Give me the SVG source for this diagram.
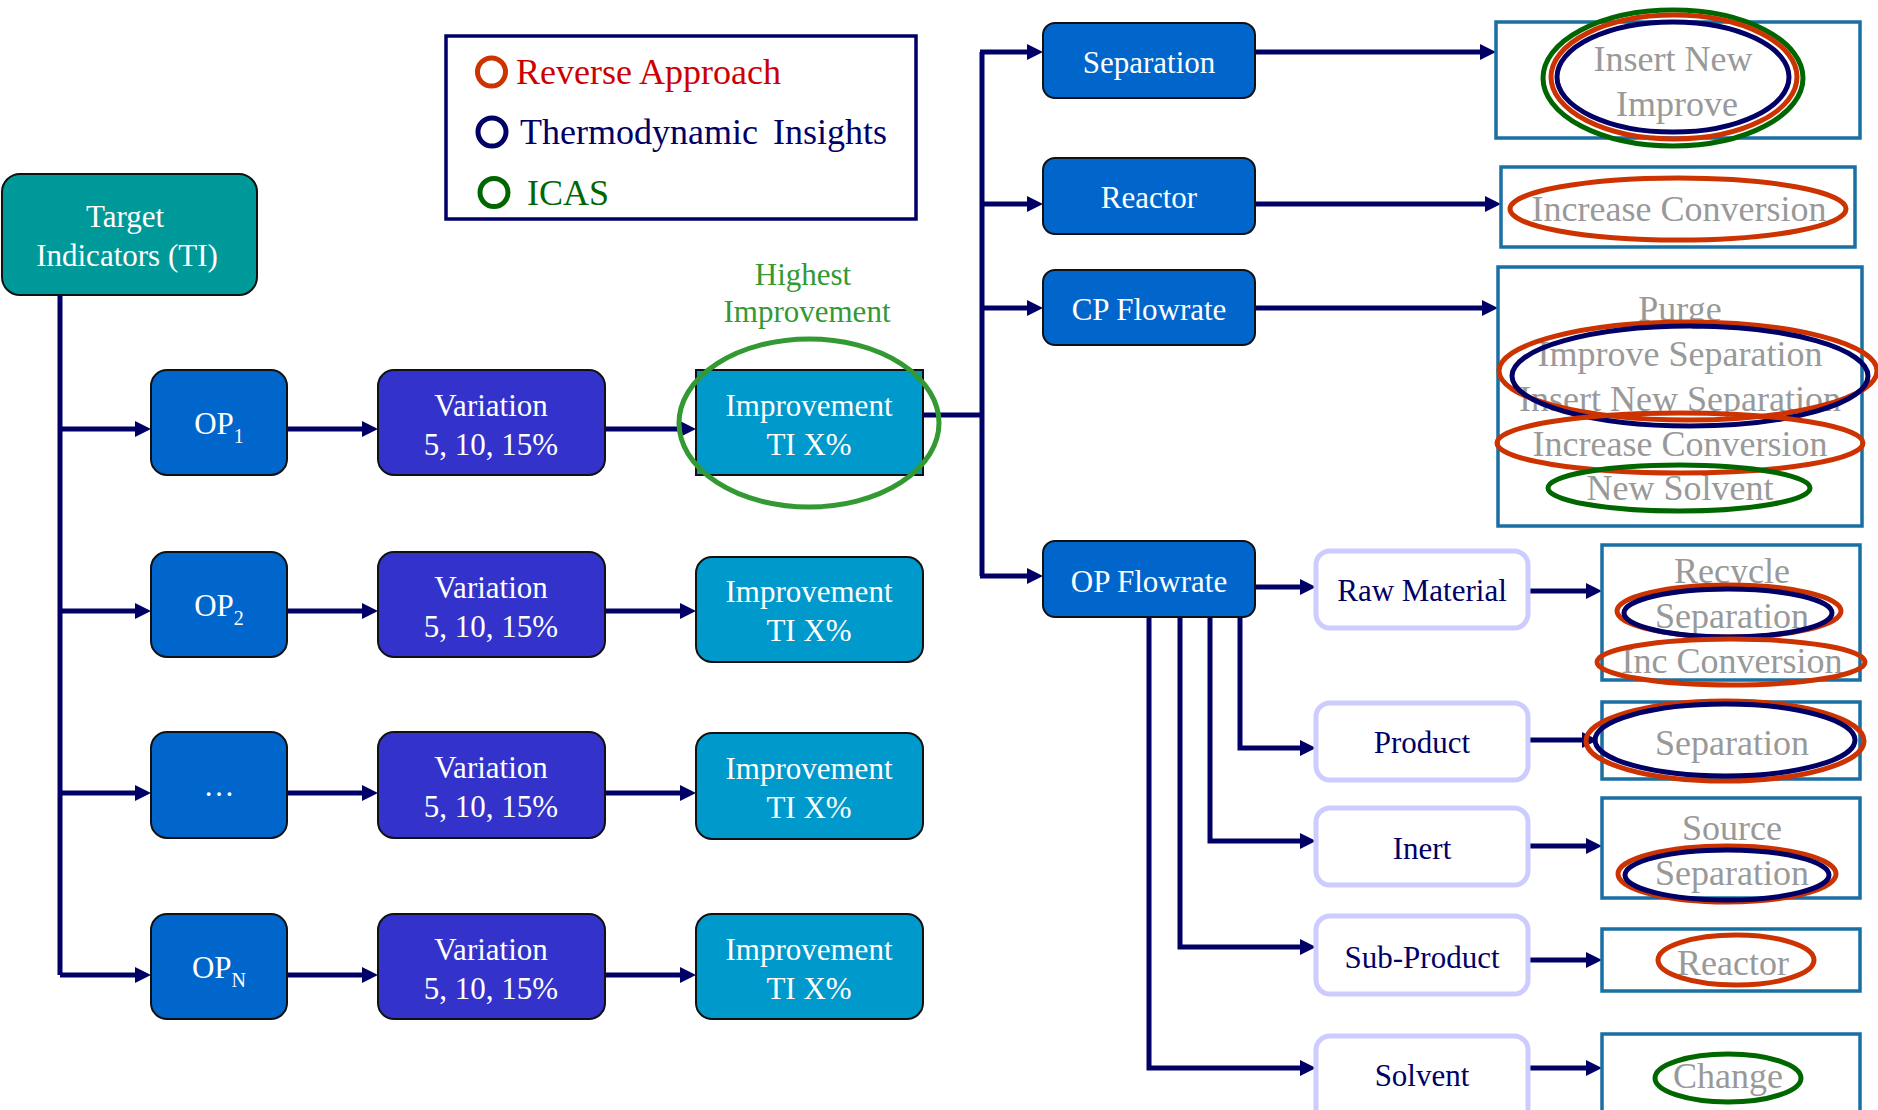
<svg xmlns="http://www.w3.org/2000/svg" width="1878" height="1110" viewBox="0 0 1878 1110">
<defs>
<marker id="ah" viewBox="0 0 16 16" refX="4" refY="8" markerWidth="16" markerHeight="16" markerUnits="userSpaceOnUse" orient="auto">
<path d="M0,0 L16,8 L0,16 z" fill="#000066"/>
</marker>
</defs>
<style>
text{font-family:"Liberation Serif","Times New Roman",serif;text-anchor:middle}
.w{fill:#fff;font-size:31px}
.n{fill:#000066;font-size:31px}
.g{fill:#999999;font-size:36px}
.box{stroke:#111;stroke-width:2}
.op{fill:#0066cc}
.va{fill:#3333cc}
.im{fill:#0099cc}
.lav{fill:#fff;stroke:#ccccff;stroke-width:5}
.res{fill:#fff;stroke:#1a6fa3;stroke-width:3.5}
.e{fill:none;stroke-width:5}
.er{stroke:#cc3300}
.en{stroke:#000066}
.eg{stroke:#006600}
.c{fill:none;stroke:#000066;stroke-width:5}
.ca{fill:none;stroke:#000066;stroke-width:5;marker-end:url(#ah)}
</style>
<rect width="1878" height="1110" fill="#fff"/>

<g id="legend">
<rect x="446" y="36" width="470" height="183" fill="#fff" stroke="#000066" stroke-width="3.5"/>
<ellipse cx="491.5" cy="72" rx="14" ry="14" fill="none" stroke="#cc3300" stroke-width="5"/>
<ellipse cx="492" cy="132" rx="14" ry="14" fill="none" stroke="#000066" stroke-width="5"/>
<ellipse cx="494" cy="192.5" rx="14" ry="14" fill="none" stroke="#006600" stroke-width="5"/>
<text x="516" y="84" style="font-size:36px;fill:#cc0000;text-anchor:start">Reverse Approach</text>
<text x="520" y="144" style="font-size:36px;fill:#000066;text-anchor:start;word-spacing:6px">Thermodynamic Insights</text>
<text x="527" y="205" style="font-size:36px;fill:#006600;text-anchor:start">ICAS</text>
</g>

<g id="connectors">
<path class="c" d="M60,295 V975"/>
<path class="ca" d="M60,429 H139"/>
<path class="ca" d="M60,611 H139"/>
<path class="ca" d="M60,793 H139"/>
<path class="ca" d="M60,975 H139"/>
<path class="ca" d="M287,429 H366"/>
<path class="ca" d="M287,611 H366"/>
<path class="ca" d="M287,793 H366"/>
<path class="ca" d="M287,975 H366"/>
<path class="ca" d="M605,429 H684"/>
<path class="ca" d="M605,611 H684"/>
<path class="ca" d="M605,793 H684"/>
<path class="ca" d="M605,975 H684"/>
<path class="c" d="M923,415 H982"/>
<path class="c" d="M982,52 V576"/>
<path class="ca" d="M980,52 H1031"/>
<path class="ca" d="M982,204 H1031"/>
<path class="ca" d="M982,308 H1031"/>
<path class="ca" d="M980,576 H1031"/>
<path class="ca" d="M1255,52 H1484"/>
<path class="ca" d="M1255,204 H1489"/>
<path class="ca" d="M1255,308 H1486"/>
<path class="ca" d="M1255,587 H1304"/>
<path class="ca" d="M1240,617 V748 H1304"/>
<path class="ca" d="M1210,617 V841 H1304"/>
<path class="ca" d="M1180,617 V947 H1304"/>
<path class="ca" d="M1149,617 V1068 H1304"/>
<path class="ca" d="M1528,591 H1590"/>
<path class="ca" d="M1528,740 H1586"/>
<path class="ca" d="M1528,846 H1590"/>
<path class="ca" d="M1528,960 H1590"/>
<path class="ca" d="M1528,1068 H1590"/>
</g>

<g id="target">
<rect class="box" x="2" y="174" width="255" height="121" rx="18" fill="#009999"/>
<text class="w" x="125" y="227">Target</text>
<text class="w" x="127" y="266">Indicators (TI)</text>
</g>

<g id="op1"><rect class="box op" x="151" y="370" width="136" height="105" rx="16"/>
<text class="w" x="219" y="434">OP<tspan style="font-size:20px" dy="9">1</tspan></text></g>
<g id="op2"><rect class="box op" x="151" y="552" width="136" height="105" rx="16"/>
<text class="w" x="219" y="616">OP<tspan style="font-size:20px" dy="9">2</tspan></text></g>
<g id="op3"><rect class="box op" x="151" y="732" width="136" height="106" rx="16"/>
<text class="w" x="219" y="796">…</text></g>
<g id="opn"><rect class="box op" x="151" y="914" width="136" height="105" rx="16"/>
<text class="w" x="219" y="978">OP<tspan style="font-size:20px" dy="9">N</tspan></text></g>

<g id="var1"><rect class="box va" x="378" y="370" width="227" height="105" rx="16"/>
<text class="w" x="491" y="416">Variation</text><text class="w" x="491" y="455">5, 10, 15%</text></g>
<g id="var2"><rect class="box va" x="378" y="552" width="227" height="105" rx="16"/>
<text class="w" x="491" y="598">Variation</text><text class="w" x="491" y="637">5, 10, 15%</text></g>
<g id="var3"><rect class="box va" x="378" y="732" width="227" height="106" rx="16"/>
<text class="w" x="491" y="778">Variation</text><text class="w" x="491" y="817">5, 10, 15%</text></g>
<g id="var4"><rect class="box va" x="378" y="914" width="227" height="105" rx="16"/>
<text class="w" x="491" y="960">Variation</text><text class="w" x="491" y="999">5, 10, 15%</text></g>

<g id="imp1"><rect class="box im" x="696" y="370" width="227" height="105"/>
<text class="w" x="809" y="416">Improvement</text><text class="w" x="809" y="455">TI X%</text></g>
<g id="imp2"><rect class="box im" x="696" y="557" width="227" height="105" rx="16"/>
<text class="w" x="809" y="602">Improvement</text><text class="w" x="809" y="641">TI X%</text></g>
<g id="imp3"><rect class="box im" x="696" y="733" width="227" height="106" rx="16"/>
<text class="w" x="809" y="779">Improvement</text><text class="w" x="809" y="818">TI X%</text></g>
<g id="imp4"><rect class="box im" x="696" y="914" width="227" height="105" rx="16"/>
<text class="w" x="809" y="960">Improvement</text><text class="w" x="809" y="999">TI X%</text></g>

<g id="highest">
<text x="803" y="285" style="font-size:31px;fill:#339933">Highest</text>
<text x="807" y="322" style="font-size:31px;fill:#339933">Improvement</text>
<ellipse cx="809" cy="423" rx="130" ry="84" fill="none" stroke="#339933" stroke-width="5"/>
</g>

<g id="separation"><rect class="box op" x="1043" y="23" width="212" height="75" rx="12"/>
<text class="w" x="1149" y="73">Separation</text></g>
<g id="reactor"><rect class="box op" x="1043" y="158" width="212" height="76" rx="12"/>
<text class="w" x="1149" y="208">Reactor</text></g>
<g id="cpflow"><rect class="box op" x="1043" y="270" width="212" height="75" rx="12"/>
<text class="w" x="1149" y="320">CP Flowrate</text></g>
<g id="opflow"><rect class="box op" x="1043" y="541" width="212" height="76" rx="12"/>
<text class="w" x="1149" y="592">OP Flowrate</text></g>

<g id="rawmat"><rect class="lav" x="1316" y="551" width="212" height="77" rx="14"/>
<text class="n" x="1422" y="601">Raw Material</text></g>
<g id="product"><rect class="lav" x="1316" y="703" width="212" height="77" rx="14"/>
<text class="n" x="1422" y="753">Product</text></g>
<g id="inert"><rect class="lav" x="1316" y="808" width="212" height="77" rx="14"/>
<text class="n" x="1422" y="859">Inert</text></g>
<g id="subproduct"><rect class="lav" x="1316" y="916" width="212" height="78" rx="14"/>
<text class="n" x="1422" y="968">Sub-Product</text></g>
<g id="solvent"><rect class="lav" x="1316" y="1036" width="212" height="100" rx="14"/>
<text class="n" x="1422" y="1086">Solvent</text></g>

<g id="res-separation"><rect class="res" x="1496" y="22" width="364" height="116"/>
<text class="g" x="1673" y="71">Insert New</text><text class="g" x="1677" y="116">Improve</text>
<ellipse class="e eg" cx="1673" cy="78" rx="130" ry="68"/>
<ellipse class="e er" cx="1674" cy="77" rx="123" ry="62"/>
<ellipse class="e en" cx="1673" cy="77" rx="116" ry="55"/></g>

<g id="res-reactor"><rect class="res" x="1501" y="167" width="354" height="80"/>
<text class="g" x="1679" y="221">Increase Conversion</text>
<ellipse class="e er" cx="1678" cy="209" rx="168" ry="31"/></g>

<g id="res-cp"><rect class="res" x="1498" y="267" width="364" height="259"/>
<text class="g" x="1680" y="321">Purge</text>
<text class="g" x="1680" y="366">Improve Separation</text>
<text class="g" x="1680" y="411">Insert New Separation</text>
<text class="g" x="1680" y="456">Increase Conversion</text>
<text class="g" x="1680" y="500">New Solvent</text>
<ellipse class="e er" cx="1688" cy="371" rx="189" ry="49"/>
<ellipse class="e en" cx="1690" cy="376" rx="178" ry="50"/>
<ellipse class="e er" cx="1680" cy="443" rx="183" ry="30"/>
<ellipse class="e eg" cx="1679" cy="488" rx="131" ry="23"/></g>

<g id="res-rawmat"><rect class="res" x="1602" y="545" width="258" height="135"/>
<text class="g" x="1732" y="583">Recycle</text>
<text class="g" x="1732" y="628">Separation</text>
<text class="g" x="1732" y="673">Inc Conversion</text>
<ellipse class="e er" cx="1729" cy="611" rx="112" ry="26"/>
<ellipse class="e en" cx="1728" cy="613" rx="104" ry="24"/>
<ellipse class="e er" cx="1731" cy="662" rx="134" ry="23"/></g>

<g id="res-product"><rect class="res" x="1602" y="702" width="258" height="77"/>
<text class="g" x="1732" y="755">Separation</text>
<ellipse class="e er" cx="1725" cy="741" rx="139" ry="40"/>
<ellipse class="e en" cx="1725" cy="740" rx="130" ry="36"/></g>

<g id="res-inert"><rect class="res" x="1602" y="798" width="258" height="100"/>
<text class="g" x="1732" y="840">Source</text>
<text class="g" x="1732" y="885">Separation</text>
<ellipse class="e er" cx="1727" cy="874" rx="109" ry="28"/>
<ellipse class="e en" cx="1727" cy="875" rx="102" ry="25"/></g>

<g id="res-subproduct"><rect class="res" x="1602" y="929" width="258" height="62"/>
<text class="g" x="1733" y="975">Reactor</text>
<ellipse class="e er" cx="1736" cy="960" rx="78" ry="25"/></g>

<g id="res-solvent"><rect class="res" x="1602" y="1034" width="258" height="100"/>
<text class="g" x="1728" y="1088">Change</text>
<ellipse class="e eg" cx="1728" cy="1078" rx="73" ry="24"/></g>
</svg>
